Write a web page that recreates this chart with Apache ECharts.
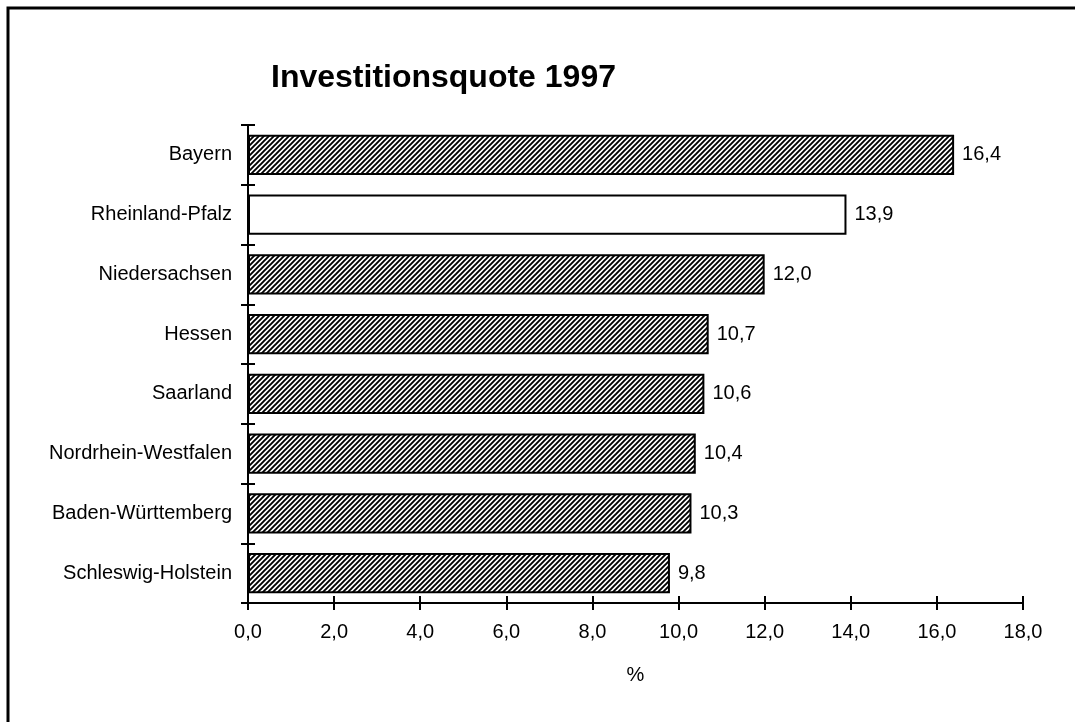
<!DOCTYPE html>
<html><head><meta charset="utf-8">
<script src="https://cdn.jsdelivr.net/npm/echarts@6/dist/echarts.min.js"></script>
<style>html,body{margin:0;padding:0;background:#fff}#c{width:1075px;height:722px}</style>
</head><body><div id="c"></div>
<script>
const categories = ['Schleswig-Holstein','Baden-Württemberg','Nordrhein-Westfalen','Saarland','Hessen','Niedersachsen','Rheinland-Pfalz','Bayern'];
const values = [9.8, 10.3, 10.4, 10.6, 10.7, 12.0, 13.9, 16.4];
const highlight = 'Rheinland-Pfalz';
const titleText = 'Investitionsquote 1997';
const xName = '%';

function hatch(){
  const s = 5;
  const c = document.createElement('canvas');
  c.width = s; c.height = s;
  const g = c.getContext('2d');
  g.fillStyle = '#fff'; g.fillRect(0,0,s,s);
  g.strokeStyle = '#000'; g.lineWidth = 1.9;
  g.beginPath();
  g.moveTo(-1, s+1); g.lineTo(s+1, -1);
  g.moveTo(-1, 1); g.lineTo(1, -1);
  g.moveTo(s-1, s+1); g.lineTo(s+1, s-1);
  g.stroke();
  return c;
}
const pat = {image: hatch(), repeat: 'repeat'};
const FONT = 'Liberation Sans, Arial, sans-serif';
const FS = 20;

const chart = echarts.init(document.getElementById('c'), null, {renderer:'canvas'});
const fmt = v => v.toFixed(1).replace('.', ',');
chart.setOption({
  animation: false,
  backgroundColor: '#fff',
  title: {text: titleText, left: 266, top: 57, textStyle: {fontFamily: FONT, fontSize: 32, fontWeight: 'bold', color: '#000'}},
  graphic: [{type:'rect', shape:{x:8, y:8, width:1200, height:900}, style:{fill:'none', stroke:'#000', lineWidth:3}}],
  grid: {left: 248, right: 52, top: 125, bottom: 119},
  xAxis: [
    {type:'value', min:0, max:18, interval:2, position:'bottom',
     name: xName, nameLocation:'middle', nameGap: 62, nameTextStyle:{fontFamily:FONT, fontSize:FS, color:'#000'},
     axisLine:{show:true, lineStyle:{color:'#000', width:2}},
     axisTick:{show:true, inside:false, length:7, lineStyle:{color:'#000', width:2}},
     axisLabel:{formatter: fmt, fontFamily:FONT, fontSize:FS, color:'#000', margin:19},
     splitLine:{show:false}},
    {type:'value', min:0, max:18, interval:2, position:'bottom', offset:0,
     axisLine:{show:false}, axisTick:{show:true, inside:true, length:7, lineStyle:{color:'#000', width:2}},
     axisLabel:{show:false}, splitLine:{show:false}}
  ],
  yAxis: [
    {type:'category', data: categories, position:'left',
     axisLine:{show:true, lineStyle:{color:'#000', width:2}},
     axisTick:{show:true, inside:false, length:7, lineStyle:{color:'#000', width:2}},
     axisLabel:{fontFamily:FONT, fontSize:FS, color:'#000', margin:16}},
    {type:'category', data: categories, position:'left', offset:0,
     axisLine:{show:false}, axisTick:{show:true, inside:true, length:7, lineStyle:{color:'#000', width:2}},
     axisLabel:{show:false}}
  ],
  series: [{
    type:'bar', xAxisIndex:0, yAxisIndex:0, barCategoryGap:'33%',
    data: values.map((v,i)=>({value:v, itemStyle:{color: categories[i]===highlight ? '#fff' : pat}})),
    itemStyle:{borderColor:'#000', borderWidth:2},
    label:{show:true, position:'right', distance:8, formatter: p => fmt(p.value), fontFamily:FONT, fontSize:FS, color:'#000'}
  }]
});
</script></body></html>
